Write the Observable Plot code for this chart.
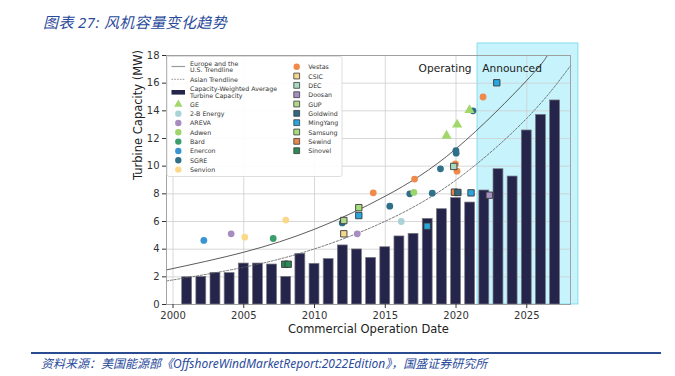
<!DOCTYPE html>
<html><head><meta charset="utf-8">
<script src="https://cdn.jsdelivr.net/npm/d3@7"></script>
<script src="https://cdn.jsdelivr.net/npm/@observablehq/plot@0.6"></script>
<style>
body{margin:0;background:#fff;width:675px;height:376px;overflow:hidden;position:relative;}
#title{position:absolute;left:43px;top:11px;font:italic 15px "Noto Sans","Noto Sans CJK SC",sans-serif;letter-spacing:0.4px;color:#2a4b9b;white-space:nowrap;}
#rule{position:absolute;left:31px;top:352px;width:630px;height:2px;background:#2a4b8f;}
#caption{position:absolute;left:41px;top:354px;font:italic 12px "Noto Sans","Noto Sans CJK SC",sans-serif;color:#2a4b9b;white-space:nowrap;}
#chart{position:absolute;left:0;top:0;}
</style></head><body>
<div id="title">图表 27: 风机容量变化趋势</div>
<div id="chart"></div>
<div id="rule"></div>
<div id="caption">资料来源：美国能源部《OffshoreWindMarketReport:2022Edition》，国盛证券研究所</div>
<script>
// ---- data ----
const barYears = [2001,2002,2003,2004,2005,2006,2007,2008,2009,2010,2011,2012,2013,2014,2015,2016,2017,2018,2019,2020,2021,2022,2023,2024,2025,2026,2027];
const barMW    = [1.97,2.0,2.29,2.27,2.96,2.96,2.89,2.0,3.66,2.94,3.28,4.27,3.98,3.37,4.14,4.92,5.11,6.19,6.89,7.69,7.37,8.24,9.78,9.25,12.58,13.71,14.75];

const europeTrendYears = [1999.54,2005,2010,2015,2020,2025,2026.45];
const europeTrendMW    = [2.5,3.78,5.44,7.83,11.26,16.2,18.0];
const asianTrendYears  = [1999.54,2005,2010,2015,2020,2025,2028.09];
const asianTrendMW     = [1.7,2.69,4.02,6.02,9.0,13.46,17.26];

const pointOem  = ["Enercon","AREVA","Senvion","Bard","Senvion","Sinovel","Sinovel","SGRE","GUP","CSIC","Samsung","MingYang","AREVA","Vestas","SGRE","2-B Energy","SGRE","Adwen","Vestas","MingYang","SGRE","SGRE","Vestas","DEC","Vestas","Sewind","Goldwind","MingYang","Doosan","MingYang","Vestas","SGRE","GE","GE","GE","SGRE","SGRE"];
const pointYear = [2002.18,2004.11,2005.07,2007.08,2007.97,2007.9,2008.14,2011.96,2012.07,2012.07,2013.13,2013.13,2013.02,2014.15,2015.32,2016.13,2016.73,2017.02,2017.07,2017.96,2018.32,2018.9,2019.96,2019.84,2020.07,2019.89,2020.13,2021.06,2022.35,2022.88,2021.91,2021.2,2020.95,2020.08,2019.33,2019.99,2020.01];
const pointMW   = [4.63,5.11,4.87,4.77,6.1,2.91,2.91,5.9,6.07,5.11,7.0,6.43,5.11,8.07,7.11,6.0,8.0,8.1,9.07,5.66,8.05,9.81,10.17,9.98,9.64,8.12,8.1,8.07,7.9,16.03,15.0,14.0,14.05,13.0,12.2,11.13,10.94];

const leftLegendOems  = ["GE","2-B Energy","AREVA","Adwen","Bard","Enercon","SGRE","Senvion"];
const rightLegendOems = ["Vestas","CSIC","DEC","Doosan","GUP","Goldwind","MingYang","Samsung","Sewind","Sinovel"];
const oemColors = {"GE":"#a3d76c","2-B Energy":"#a9d2d9","AREVA":"#a78cc0","Adwen":"#9dd46c","Bard":"#3b9d6b","Enercon":"#3a94d2","SGRE":"#2f6f88","Senvion":"#fcd98a",
  "Vestas":"#f08a4b","CSIC":"#f5d78c","DEC":"#a8d9c0","Doosan":"#a690c2","GUP":"#b1d88a","Goldwind":"#2e6a82","MingYang":"#29a6dd","Samsung":"#a6dc7c","Sewind":"#e7874b","Sinovel":"#2c8a56"};
const oemShapes = {"GE":"triangle","Vestas":"circle","CSIC":"square","DEC":"square","Doosan":"square","GUP":"square","Goldwind":"square","MingYang":"square","Samsung":"square","Sewind":"square","Sinovel":"square"};

const xTicks = [2000,2005,2010,2015,2020,2025];
const yTicks = [0,2,4,6,8,10,12,14,16,18];
const announcedSpan = [{start:2021.52,end:2028.65,top:18.87}];
const operatingLabel = [{text:"Operating",x:2021.1,y:17.04}];
const announcedLabel = [{text:"Announced",x:2021.85,y:17.04}];

// ---- tables ----
const bars = barYears.map((y,i)=>({year:y,mw:barMW[i]}));
const europe = europeTrendYears.map((y,i)=>({year:y,mw:europeTrendMW[i]}));
const asian = asianTrendYears.map((y,i)=>({year:y,mw:asianTrendMW[i]}));
const pts = pointOem.map((o,i)=>({oem:o,year:pointYear[i],mw:pointMW[i],shape:oemShapes[o]||"circle",color:oemColors[o]}));

const plot = Plot.plot({
  width:675, height:340,
  marginLeft:166, marginRight:105, marginTop:55, marginBottom:36,
  x:{domain:[1999.54,2028.09]},
  y:{domain:[0,18]},
  color:{type:"identity"},
  style:{fontFamily:"DejaVu Sans, sans-serif",fontSize:"10px",color:"#333",background:"transparent",overflow:"visible"},
  marks:[
    Plot.rect(announcedSpan,{x1:"start",x2:"end",y1:0,y2:"top",fill:"#c6f3fc",stroke:"#74d7ed",strokeWidth:0.8,clip:false}),
    Plot.gridX(xTicks,{stroke:"#cfcfcf",strokeOpacity:1,strokeWidth:0.8}),
    Plot.gridY(yTicks,{stroke:"#cfcfcf",strokeOpacity:1,strokeWidth:0.8}),
    Plot.rectY(bars,{x1:d=>d.year-0.35,x2:d=>d.year+0.35,y:"mw",fill:"#25254b",stroke:"#7a7a84",strokeWidth:0.7}),
    Plot.line(europe,{x:"year",y:"mw",curve:"natural",stroke:"#4a4a4a",strokeWidth:0.9}),
    Plot.line(asian,{x:"year",y:"mw",curve:"natural",stroke:"#5a5a5a",strokeWidth:0.8,strokeDasharray:"2.2,1.6"}),
    Plot.dot(pts.filter(d=>d.shape==="circle"),{x:"year",y:"mw",fill:"color",r:3.4,symbol:"circle"}),
    Plot.dot(pts.filter(d=>d.shape==="square"),{x:"year",y:"mw",fill:"color",r:3.6,symbol:"square",stroke:"#3a3a3a",strokeWidth:0.9}),
    Plot.dot(pts.filter(d=>d.shape==="triangle"),{x:"year",y:"mw",fill:"color",r:3.8,symbol:"triangle"}),
    Plot.text(operatingLabel,{x:"x",y:"y",text:"text",textAnchor:"end",fontSize:10.6,fill:"#222"}),
    Plot.text(announcedLabel,{x:"x",y:"y",text:"text",textAnchor:"start",fontSize:10.6,fill:"#222"}),
    Plot.frame({stroke:"#9a9a9a",strokeWidth:0.9}),
    Plot.axisX({ticks:xTicks,tickSize:4,tickPadding:3,tickFormat:d=>String(d),label:null,fontSize:10}),
    Plot.axisY({ticks:yTicks,tickSize:4,tickPadding:3,label:null,fontSize:10}),
    Plot.text(["Commercial Operation Date"],{frameAnchor:"bottom",dy:28,fontSize:11.5,fill:"#222"}),
    Plot.text(["Turbine Capacity (MW)"],{frameAnchor:"left",dx:-28,rotate:-90,fontSize:11.5,fill:"#222"})
  ]
});
document.getElementById("chart").appendChild(plot);

// ---- legend (matplotlib-style box) ----
const svg = d3.select(plot);
const lg = svg.append("g").attr("font-family","DejaVu Sans, sans-serif").attr("font-size",6.3).attr("fill","#333").attr("text-anchor","start");
lg.append("rect").attr("x",167).attr("y",56.5).attr("width",175).attr("height",120).attr("rx",2)
  .attr("fill","#fff").attr("fill-opacity",0.9).attr("stroke","#d6d6d6").attr("stroke-width",0.8);
const sym = (shape)=>d3.symbol().type(shape==="square"?d3.symbolSquare:shape==="triangle"?d3.symbolTriangle:d3.symbolCircle).size(shape==="square"?34:shape==="triangle"?30:32)();
lg.append("line").attr("x1",171.5).attr("x2",185).attr("y1",66.5).attr("y2",66.5).attr("stroke","#9a9a9a").attr("stroke-width",1.2);
lg.append("text").attr("x",190).attr("y",63.5).attr("dominant-baseline","central").text("Europe and the");
lg.append("text").attr("x",190).attr("y",69.8).attr("dominant-baseline","central").text("U.S. Trendline");
lg.append("line").attr("x1",171.5).attr("x2",185).attr("y1",79.3).attr("y2",79.3).attr("stroke","#8a8a8a").attr("stroke-width",0.9).attr("stroke-dasharray","1.6,1.2");
lg.append("text").attr("x",190).attr("y",79.3).attr("dominant-baseline","central").text("Asian Trendline");
lg.append("rect").attr("x",171.5).attr("y",90).attr("width",13.5).attr("height",4.6).attr("fill","#25254b");
lg.append("text").attr("x",190).attr("y",88.8).attr("dominant-baseline","central").text("Capacity-Weighted Average");
lg.append("text").attr("x",190).attr("y",95.3).attr("dominant-baseline","central").text("Turbine Capacity");
leftLegendOems.forEach((o,i)=>{
  const cy = 104.3 + 9.33*i, sh = oemShapes[o]||"circle";
  lg.append("path").attr("d",sym(sh)).attr("transform",`translate(178.3,${cy})`).attr("fill",oemColors[o])
    .attr("stroke",sh==="square"?"#3a3a3a":"none").attr("stroke-width",0.8);
  lg.append("text").attr("x",190).attr("y",cy).attr("dominant-baseline","central").text(o);
});
rightLegendOems.forEach((o,i)=>{
  const cy = 66.7 + 9.33*i, sh = oemShapes[o]||"circle";
  lg.append("path").attr("d",sym(sh)).attr("transform",`translate(296.7,${cy})`).attr("fill",oemColors[o])
    .attr("stroke",sh==="square"?"#3a3a3a":"none").attr("stroke-width",0.8);
  lg.append("text").attr("x",308.3).attr("y",cy).attr("dominant-baseline","central").text(o);
});
</script>
</body></html>
